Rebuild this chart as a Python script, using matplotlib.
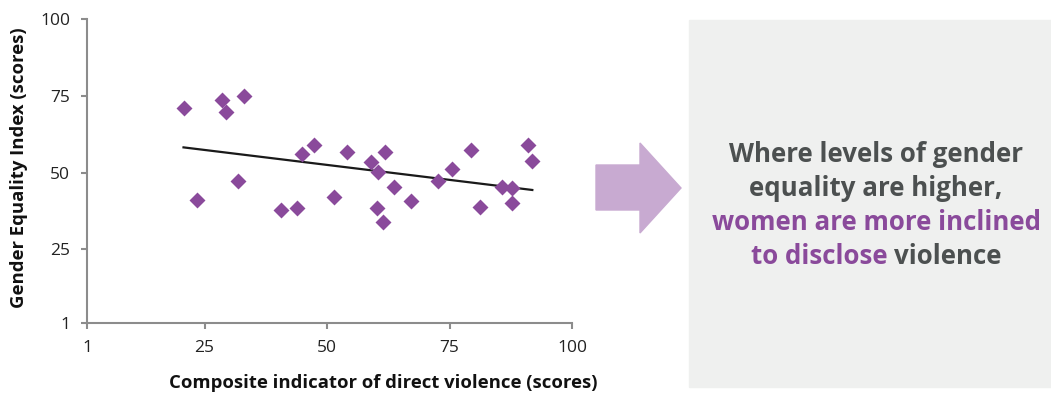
import numpy as np
import matplotlib
matplotlib.use("Agg")
import matplotlib.pyplot as plt
from matplotlib.patches import Polygon, Rectangle

# data
violence = [20.7, 23.5, 28.5, 29.4, 31.8, 33.1, 40.7, 43.9, 44.8, 47.3,
            51.4, 54.0, 58.9, 60.4, 60.2, 61.9, 61.5, 63.7, 67.2, 72.7,
            75.6, 79.4, 81.2, 85.7, 87.7, 87.7, 91.0, 91.9]
equality = [70.9, 41.2, 73.6, 69.6, 47.3, 74.8, 37.9, 38.6, 56.1, 58.9,
            42.0, 56.6, 53.4, 50.1, 38.5, 56.6, 34.0, 45.2, 40.6, 47.2,
            51.3, 57.3, 38.8, 45.3, 45.0, 40.0, 58.9, 53.9]
ticks = [1, 25, 50, 75, 100]
tick_labels = ["1", "25", "50", "75", "100"]

purple = "#8a4a9b"
grey_txt = "#4c5050"
font = "Open Sans"
W, H = 1051, 394

fig = plt.figure(figsize=(W/100, H/100), dpi=100)
ax = fig.add_axes([87/W, 71/H, 485/W, 304/H])

ax.scatter(violence, equality, marker="D", s=66, color=purple, zorder=3, linewidths=0)

# linear trend line
k, b = np.polyfit(violence, equality, 1)
xs = np.array([min(violence), max(violence)])
ax.plot(xs, k*xs + b, color="#1a1a1a", lw=1.6, zorder=2)

ax.set_xlim(1, 100)
ax.set_ylim(1, 100)
ax.set_xticks(ticks)
ax.set_xticklabels(tick_labels)
ax.set_yticks(ticks)
ax.set_yticklabels(tick_labels)
for s in ["top", "right"]:
    ax.spines[s].set_visible(False)
for s in ["left", "bottom"]:
    ax.spines[s].set_color("#8c8c8c")
    ax.spines[s].set_linewidth(1.5)
ax.tick_params(direction="out", length=4, width=1.5, color="#8c8c8c",
               labelsize=12.5, labelcolor="#222222", pad=8)
for lab in ax.get_xticklabels() + ax.get_yticklabels():
    lab.set_family(font)

# axis titles
fig.text(383/W, 1 - 383/H, "Composite indicator of direct violence (scores)",
         fontsize=13.3, fontweight="bold", family=font, color="#111111",
         ha="center", va="center")
fig.text(19/W, 1 - 168/H, "Gender Equality Index (scores)", rotation=90,
         fontsize=13.3, fontweight="bold", family=font, color="#111111",
         ha="center", va="center")

# grey box on the right
fig.patches.append(Rectangle((689/W, 1 - 387/H), 362/W, 367/H,
                             transform=fig.transFigure, color="#eff0ef", zorder=0))

# arrow
arrow = [(596, 165), (640, 165), (640, 143), (681, 188), (640, 233),
         (640, 210), (596, 210)]
fig.patches.append(Polygon([(x/W, 1 - y/H) for x, y in arrow], closed=True,
                           transform=fig.transFigure, color="#c8aad1", zorder=1))

# message text
cx = 876/W
kw = dict(fontsize=18.6, fontweight="bold", family=font, ha="center", va="center")
fig.text(cx, 1 - 155/H, "Where levels of gender", color=grey_txt, **kw)
fig.text(cx, 1 - 189/H, "equality are higher,", color=grey_txt, **kw)
fig.text(cx, 1 - 223/H, "women are more inclined", color=purple, **kw)

# last line has two colours
r = fig.canvas.get_renderer()
y4 = 1 - 256/H
bb = fig.text(cx, y4, "to disclose violence", alpha=0, **kw).get_window_extent(r)
kw2 = dict(kw, ha="left")
fig.text(bb.x0/fig.bbox.width, y4, "to disclose", color=purple, **kw2)
vio = fig.text(0, 0, "violence", alpha=0, **kw2).get_window_extent(r)
fig.text((bb.x1 - vio.width)/fig.bbox.width, y4, "violence", color=grey_txt, **kw2)

fig.savefig("out.png", dpi=100)
